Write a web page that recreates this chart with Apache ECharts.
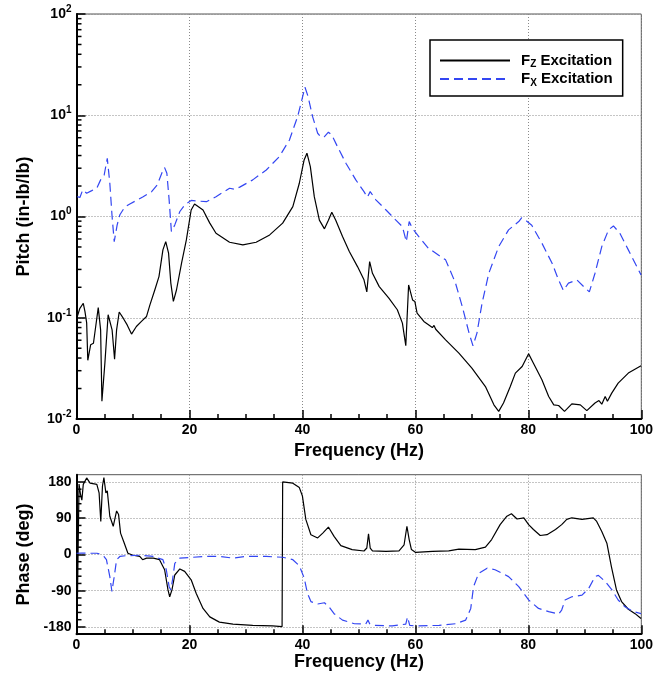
<!DOCTYPE html>
<html><head><meta charset="utf-8">
<script src="https://cdn.jsdelivr.net/npm/echarts@6/dist/echarts.min.js"></script>
<style>html,body{margin:0;padding:0;background:#fff}#c{width:656px;height:674px}</style>
</head><body><div id="c"></div>
<script>
const FONT = '"Liberation Sans", Arial, Helvetica, sans-serif';

// ---- Magnitude (Pitch, in-lb/lb) ----
const freqMagFz = [0.14,0.6,1.2,1.5,1.8,2.0,2.5,3.0,3.4,3.85,4.27,4.5,5.03,5.6,5.9,6.3,6.74,7.1,7.56,8.27,8.97,9.74,10.6,11.5,12.4,13.0,13.86,14.6,15.3,15.8,16.3,16.7,17.15,17.7,18.6,19.45,20.3,20.9,21.2,22.4,23.6,24.7,27.1,29.45,31.8,34.2,36.5,38.3,39.45,40.3,40.8,41.4,42.1,43.0,43.9,44.6,45.2,45.9,47.1,48.3,49.75,50.9,51.4,51.9,52.4,53.6,55.3,56.8,57.7,58.3,58.8,59.5,59.9,60.3,61.5,63.0,63.3,63.6,65.35,67.7,70.0,72.4,73.9,74.75,75.6,76.8,77.7,78.9,80.05,80.9,82.4,83.6,84.5,85.35,86.4,87.7,89.2,90.35,91.8,92.5,93.0,93.6,94.0,94.76,95.9,97.7,99.95];
const magFz = [0.103,0.124,0.139,0.115,0.089,0.038,0.054,0.056,0.082,0.126,0.076,0.015,0.036,0.107,0.11,0.076,0.039,0.076,0.114,0.099,0.085,0.069,0.082,0.092,0.103,0.134,0.188,0.255,0.468,0.565,0.434,0.22,0.145,0.188,0.346,0.587,1.16,1.33,1.30,1.16,0.86,0.684,0.557,0.524,0.557,0.658,0.86,1.25,2.13,3.62,4.22,3.11,1.57,0.92,0.755,0.92,1.10,0.92,0.634,0.451,0.32,0.237,0.18,0.359,0.275,0.203,0.156,0.12,0.0885,0.053,0.211,0.15,0.145,0.111,0.092,0.08,0.084,0.077,0.0605,0.0447,0.0318,0.0209,0.0138,0.0119,0.0144,0.0209,0.0284,0.033,0.044,0.0356,0.0244,0.0167,0.0138,0.0136,0.0119,0.0141,0.0138,0.0121,0.0144,0.0152,0.0140,0.0167,0.0150,0.018,0.0226,0.0284,0.0335];

const freqMagFx = [0.14,0.6,1.1,1.8,2.7,3.6,4.27,4.9,5.45,5.9,6.3,6.68,7.2,7.68,8.56,9.44,10.6,11.8,13.3,14.3,15.2,15.6,16.0,16.4,16.8,17.4,18.3,19.15,20.3,20.6,23.0,24.7,27.1,28.0,28.9,31.2,33.6,35.9,37.7,39.15,39.9,40.45,41.0,41.8,42.7,43.3,43.9,44.6,45.2,46.2,47.7,49.45,50.9,51.5,52.0,53.0,54.8,56.5,57.7,58.4,58.9,59.45,60.6,62.3,65.35,67.1,68.3,69.5,70.2,70.9,71.8,73.0,74.75,76.5,78.3,78.8,79.2,80.6,82.4,84.2,85.35,86.2,87.1,88.6,89.8,90.8,91.8,93.0,94.2,95.06,96.2,97.7,99.95];
const magFx = [1.57,1.54,1.83,1.70,1.80,1.91,2.30,2.57,3.76,2.13,1.0,0.565,0.826,1.04,1.24,1.33,1.44,1.57,1.76,2.05,2.77,3.04,2.67,1.46,0.71,0.826,1.12,1.30,1.44,1.44,1.40,1.57,1.90,1.86,1.95,2.30,2.88,3.90,5.70,9.7,14.2,18.9,15.3,9.7,6.64,6.06,6.15,6.8,6.38,4.9,3.36,2.30,1.76,1.55,1.76,1.46,1.16,0.925,0.795,0.565,0.89,0.767,0.634,0.486,0.373,0.22,0.129,0.0705,0.0528,0.0705,0.139,0.275,0.505,0.738,0.892,0.97,0.95,0.82,0.545,0.346,0.236,0.186,0.22,0.236,0.203,0.18,0.275,0.505,0.738,0.807,0.684,0.468,0.265];

// ---- Phase (deg) ----
const freqPhFz = [0.1,0.35,0.45,0.7,0.95,1.2,1.8,2.4,3.6,4.0,4.3,4.6,4.85,5.2,5.45,5.9,6.5,7.1,7.45,7.8,8.35,9.1,10.0,11.2,11.7,12.4,13.6,14.7,15.6,16.2,16.5,16.9,17.4,18.3,19.15,20.3,21.2,22.4,23.6,25.3,27.7,31.2,34.7,36.4,36.5,38.3,39.45,40.0,40.6,41.5,42.7,43.6,44.6,45.6,46.8,48.8,50.9,51.4,51.7,52.0,52.4,54.8,57.1,58.0,58.5,58.9,59.3,60.05,63.0,65.9,67.7,70.6,72.4,73.5,75.0,76.2,77.0,78.0,79.2,80.05,80.9,82.1,83.3,84.8,85.9,86.8,87.7,89.5,91.5,92.1,93.0,93.9,94.7,95.6,96.5,97.7,98.9,99.95];
const phFz = [-178,-178,175,150,135,174,190,177,174,153,82,170,191,153,158,95,70,108,99,53,32,3,-2,-5,-13,-9,-9,-13,-38,-88,-105,-88,-51,-36,-42,-63,-97,-134,-155,-168,-173,-176,-177.5,-179,180,177,166,145,87,49,41,53,68,45,22,12,8.5,16,51,16,9,7.5,9,24,70,37,12,5,7.5,9,13,12,18,37,74,95,101,88,91,74,62,47,49,62,74,87,91,87,91,82,57,28,-30,-88,-117,-136,-147,-159];

const freqPhFx = [0.0,0.9,1.8,3.6,4.15,4.85,5.3,5.9,6.27,6.68,7.1,7.68,8.8,11.2,13.6,15.3,15.9,16.4,16.7,17.0,17.4,18.3,20.0,23.0,25.3,27.7,30.0,33.6,36.5,38.3,39.45,40.3,40.9,41.5,42.7,43.9,44.7,45.6,47.1,49.2,51.2,51.6,51.9,52.7,55.9,58.3,58.6,59.0,60.05,64.2,67.1,68.9,69.8,70.3,71.2,72.7,74.1,76.5,78.3,80.05,81.8,83.6,85.35,85.9,86.5,87.7,89.5,90.7,91.8,92.4,93.6,94.8,95.9,97.1,98.6,99.95];
const phFx = [3,3.5,3,3,1,-5,-13,-55,-92,-55,-13,-5,-3,-2,-5,-13,-38,-80,-88,-63,-22,-9,-7.5,-5,-5,-9,-5,-5,-7,-13,-28,-58,-97,-117,-123,-120,-130,-147,-163,-172,-173,-163,-172,-176,-177.5,-173,-155,-176,-177.5,-176,-172,-163,-134,-80,-47,-34,-38,-55,-80,-113,-134,-142,-148,-138,-113,-105,-101,-84,-55,-52,-67,-88,-113,-130,-142,-147];

// tick values
const freqTicks = [0, 20, 40, 60, 80, 100];
const magTicks = [0.01, 0.1, 1, 10, 100];
const magMinorTicks = [0.02,0.03,0.04,0.05,0.06,0.07,0.08,0.09,0.2,0.3,0.4,0.5,0.6,0.7,0.8,0.9,2,3,4,5,6,7,8,9,20,30,40,50,60,70,80,90];
const phaseTicks = [-180, -90, 0, 90, 180];
const phaseMinorTicks = [-162,-144,-126,-108,-72,-54,-36,-18,18,36,54,72,108,126,144,162];

const seriesNames = ['Fz', 'Fx'];
const legendLabels = { Fz: '{a|F}{sub|Z}{a| Excitation}', Fx: '{a|F}{sub|X}{a| Excitation}' };

const zip = (xs, ys) => xs.map((x, i) => [x, ys[i]]);

const BLUE = '#3346f2';
const gridLine = { show: true, lineStyle: { color: '#8a8a8a', width: 1, type: [1, 2] } };
const labelStyle = { color: '#000', fontFamily: FONT, fontWeight: 'bold', fontSize: 14 };
const nameStyle = { color: '#000', fontFamily: FONT, fontWeight: 'bold', fontSize: 18 };
const majorTick = { show: true, inside: true, length: 9, lineStyle: { color: '#000', width: 1.5 } };

const xAxisCommon = (gridIndex, nameGap) => ({
  type: 'value', gridIndex, min: 0, max: 100, interval: 20,
  name: 'Frequency (Hz)', nameLocation: 'middle', nameGap, nameTextStyle: nameStyle,
  axisLine: { show: true, onZero: false, lineStyle: { color: '#000', width: 2 } },
  axisTick: majorTick,
  minorTick: { show: true, splitNumber: 4, length: 5, lineStyle: { color: '#000', width: 1.5 } },
  axisLabel: Object.assign({ margin: 4, formatter: v => freqTicks.includes(v) ? String(v) : '' }, labelStyle),
  splitLine: gridLine
});

// short inward tick drawn from the left axis at a data value, positioned by the axis scale
const minorTickSeries = (gi, values) => ({
  name: 'minorTicks' + gi, type: 'custom', xAxisIndex: gi, yAxisIndex: gi, silent: true, clip: false, z: 5,
  data: values.map(v => [0, v]),
  renderItem: (params, api) => {
    const p = api.coord([api.value(0), api.value(1)]);
    return { type: 'line', shape: { x1: p[0], y1: p[1], x2: p[0] + 5, y2: p[1] }, style: { stroke: '#000', lineWidth: 1.5 } };
  }
});

const option = {
  animation: false,
  backgroundColor: '#fff',
  grid: [
    { left: 76.5, right: 13.5, top: 14, height: 405, show: true, borderColor: '#555', borderWidth: 1 },
    { left: 76.5, right: 13.5, top: 474.7, height: 159.5, show: true, borderColor: '#555', borderWidth: 1 }
  ],
  legend: {
    data: seriesNames,
    orient: 'vertical',
    left: 430, top: 40,
    padding: [13, 10, 8, 9],
    itemWidth: 70, itemHeight: 14, itemGap: 2,
    borderColor: '#000', borderWidth: 1.5, backgroundColor: '#fff',
    itemStyle: { opacity: 0, color: 'rgba(0,0,0,0)', borderWidth: 0 },
    formatter: n => legendLabels[n],
    textStyle: {
      padding: [0, 0, 0, 6],
      rich: {
        a: { fontFamily: FONT, fontWeight: 'bold', fontSize: 15, color: '#000', lineHeight: 18 },
        sub: { fontFamily: FONT, fontWeight: 'bold', fontSize: 10, color: '#000', lineHeight: 10, verticalAlign: 'bottom' }
      }
    }
  },
  xAxis: [ xAxisCommon(0, 19), xAxisCommon(1, 18) ],
  yAxis: [
    {
      type: 'log', logBase: 10, gridIndex: 0, min: 0.01, max: 100,
      name: 'Pitch (in-lb/lb)', nameLocation: 'middle', nameGap: 43, nameTextStyle: nameStyle,
      axisLine: { show: true, onZero: false, lineStyle: { color: '#000', width: 2 } },
      axisTick: majorTick,
      axisLabel: {
        margin: 5,
        formatter: v => {
          const e = Math.round(Math.log10(v));
          return magTicks.some(t => Math.abs(t - v) / t < 1e-6) ? '{b|10}{s|' + e + '}' : '';
        },
        rich: {
          b: { fontFamily: FONT, fontWeight: 'bold', fontSize: 14, color: '#000', lineHeight: 20 },
          s: { fontFamily: FONT, fontWeight: 'bold', fontSize: 10, color: '#000', lineHeight: 10, verticalAlign: 'top' }
        }
      },
      splitLine: gridLine
    },
    {
      type: 'value', gridIndex: 1, min: -198, max: 198,
      name: 'Phase (deg)', nameLocation: 'middle', nameGap: 43, nameTextStyle: nameStyle,
      axisLine: { show: true, onZero: false, lineStyle: { color: '#000', width: 2 } },
      axisTick: Object.assign({ customValues: phaseTicks }, majorTick),
      axisLabel: Object.assign({ margin: 5, customValues: phaseTicks }, labelStyle),
      splitLine: gridLine
    }
  ],
  series: [
    {
      name: 'Fz', type: 'line', xAxisIndex: 0, yAxisIndex: 0, data: zip(freqMagFz, magFz),
      showSymbol: false, symbol: 'none', lineStyle: { color: '#000', width: 1.2 }, itemStyle: { color: '#000' }, z: 3
    },
    {
      name: 'Fx', type: 'line', xAxisIndex: 0, yAxisIndex: 0, data: zip(freqMagFx, magFx),
      showSymbol: false, symbol: 'none', lineStyle: { color: BLUE, width: 1.2, type: [9, 5] }, itemStyle: { color: BLUE }, z: 3
    },
    {
      name: 'Fz', type: 'line', xAxisIndex: 1, yAxisIndex: 1, data: zip(freqPhFz, phFz),
      showSymbol: false, symbol: 'none', lineStyle: { color: '#000', width: 1.2 }, itemStyle: { color: '#000' }, z: 3
    },
    {
      name: 'Fx', type: 'line', xAxisIndex: 1, yAxisIndex: 1, data: zip(freqPhFx, phFx),
      showSymbol: false, symbol: 'none', lineStyle: { color: BLUE, width: 1.2, type: [9, 5] }, itemStyle: { color: BLUE }, z: 3
    },
    minorTickSeries(0, magMinorTicks),
    minorTickSeries(1, phaseMinorTicks)
  ]
};

const chart = echarts.init(document.getElementById('c'), null, { renderer: 'canvas' });
chart.setOption(option);
</script></body></html>
